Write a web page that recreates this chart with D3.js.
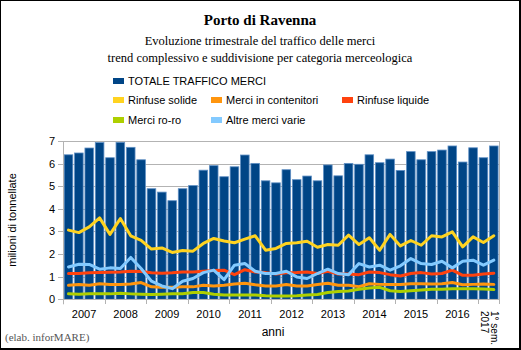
<!DOCTYPE html>
<html><head><meta charset="utf-8">
<script src="https://cdn.jsdelivr.net/npm/d3@7"></script>
<style>body{margin:0;background:#fff}svg{display:block}</style>
</head><body>
<script>
const years = ["2007","2008","2009","2010","2011","2012","2013","2014","2015","2016"];
const lastLabel = ["1° sem.","2017"];
const totale = [6.39,6.47,6.69,6.93, 6.26,6.94,6.72,6.17, 4.89,4.74,4.36,4.89, 5.03,5.71,5.91,5.42, 5.86,6.38,6.01,5.24, 5.15,5.73,5.29,5.45, 5.24,5.94,5.46,6.01, 5.97,6.39,6.04,6.20, 5.70,6.53,6.17,6.53, 6.60,6.78,6.07,6.70, 6.26,6.78];
const rinfuseSolide = [3.06,2.95,3.20,3.60, 2.87,3.57,2.81,2.61, 2.22,2.27,2.07,2.16, 2.13,2.47,2.69,2.58, 2.50,2.66,2.81,2.17, 2.25,2.47,2.50,2.57, 2.30,2.42,2.39,2.84, 2.42,2.72,2.17,2.87, 2.36,2.60,2.39,2.81, 2.76,2.98,2.32,2.76, 2.51,2.81];
const contenitori = [0.62,0.65,0.62,0.69, 0.65,0.65,0.68,0.74, 0.55,0.53,0.53,0.55, 0.55,0.62,0.59,0.62, 0.68,0.71,0.64,0.59, 0.59,0.65,0.59,0.59, 0.65,0.71,0.62,0.62, 0.56,0.69,0.66,0.65, 0.65,0.69,0.69,0.68, 0.69,0.74,0.64,0.66, 0.68,0.66];
const rinfuseLiquide = [1.14,1.14,1.17,1.18, 1.20,1.21,1.24,1.23, 1.17,1.15,1.17,1.21, 1.21,1.24,1.27,1.29, 1.09,1.31,1.21,1.18, 1.12,1.17,1.18,1.21, 1.14,1.24,1.12,1.12, 1.09,1.21,1.18,1.09, 1.03,1.14,1.18,1.12, 1.14,1.29,1.06,1.06, 1.12,1.15];
const roro = [0.24,0.22,0.24,0.24, 0.24,0.27,0.24,0.22, 0.21,0.22,0.24,0.25, 0.30,0.30,0.22,0.19, 0.19,0.19,0.19,0.16, 0.15,0.15,0.16,0.19, 0.21,0.30,0.35,0.37, 0.44,0.50,0.53,0.38, 0.35,0.38,0.41,0.44, 0.44,0.47,0.47,0.47, 0.46,0.43];
const altre = [1.43,1.55,1.54,1.33, 1.39,1.36,1.85,1.36, 0.80,0.59,0.47,0.80, 0.92,1.18,1.29,0.87, 1.51,1.58,1.24,1.14, 1.14,1.24,0.99,0.92, 1.14,1.33,1.14,1.09, 1.58,1.43,1.51,1.29, 1.48,1.80,1.58,1.54, 1.68,1.39,1.68,1.73, 1.51,1.73];
const yTicks = [0,1,2,3,4,5,6,7];

const W=521,H=350;
const svg=d3.select("body").append("svg").attr("width",W).attr("height",H);
svg.append("rect").attr("width",W).attr("height",H).attr("fill","#fff");

const x=d3.scaleBand().domain(d3.range(totale.length)).range([63.3,499]).paddingInner(0.17).paddingOuter(0.085);
const xs=d3.scaleBand().domain(d3.range(totale.length)).range([63.3,499]);
const y=d3.scaleLinear().domain([0,7]).range([299.3,141]);

// gridlines
svg.append("g").selectAll("line").data(yTicks.filter(d=>d>0)).join("line")
  .attr("x1",63.3).attr("x2",499).attr("y1",d=>Math.round(y(d))+0.5).attr("y2",d=>Math.round(y(d))+0.5)
  .attr("stroke","#b3b3b3").attr("stroke-width",1);
svg.append("line").attr("x1",499.5).attr("x2",499.5).attr("y1",y(7)).attr("y2",y(0)).attr("stroke","#b3b3b3");

// bars
svg.append("g").selectAll("rect").data(totale).join("rect")
  .attr("x",(d,i)=>x(i)).attr("width",x.bandwidth())
  .attr("y",d=>y(d)).attr("height",d=>y(0)-y(d))
  .attr("fill","#004586").attr("stroke","#5f8fc4").attr("stroke-width",0.8);

// lines
const series=[
 {name:"Rinfuse solide",vals:rinfuseSolide,color:"#ffd320"},
 {name:"Merci in contenitori",vals:contenitori,color:"#ff950e"},
 {name:"Rinfuse liquide",vals:rinfuseLiquide,color:"#ff420e"},
 {name:"Merci ro-ro",vals:roro,color:"#aecf00"},
 {name:"Altre merci varie",vals:altre,color:"#83caff"}
];
const line=d3.line().x((d,i)=>xs(i)+xs.bandwidth()/2).y(d=>y(d));
series.forEach(s=>{
  svg.append("path").attr("d",line(s.vals)).attr("fill","none").attr("stroke",s.color)
    .attr("stroke-width",3).attr("stroke-linejoin","round").attr("stroke-linecap","round");
});

// axes
const ax=svg.append("g").attr("font-family","'Liberation Sans',Arial,sans-serif").attr("font-size","11px");
ax.append("line").attr("x1",63.5).attr("x2",63.5).attr("y1",y(7)).attr("y2",y(0)+5).attr("stroke","#b3b3b3");
ax.append("line").attr("x1",58).attr("x2",499.5).attr("y1",299.5).attr("y2",299.5).attr("stroke","#b3b3b3");
ax.selectAll(".yt").data(yTicks).join("line").attr("x1",58).attr("x2",63.3)
  .attr("y1",d=>Math.round(y(d))+0.5).attr("y2",d=>Math.round(y(d))+0.5).attr("stroke","#b3b3b3");
ax.selectAll(".yl").data(yTicks).join("text").attr("x",55).attr("y",d=>y(d)).attr("dy","0.36em")
  .attr("text-anchor","end").attr("fill","#000").text(d=>d);
const tickIdx=d3.range(0,41,4).concat([40,42]);
ax.selectAll(".xt").data([...new Set(tickIdx)]).join("line")
  .attr("x1",d=>Math.round(d===42?499:xs(d))+0.5).attr("x2",d=>Math.round(d===42?499:xs(d))+0.5)
  .attr("y1",299).attr("y2",304).attr("stroke","#b3b3b3");
ax.selectAll(".xl").data(years).join("text")
  .attr("x",(d,i)=>(xs(i*4)+xs(i*4+3)+xs.bandwidth())/2).attr("y",318)
  .attr("text-anchor","middle").text(d=>d);
const lx=(xs(40)+xs(41)+xs.bandwidth())/2;
const lg=ax.append("g").attr("transform",`translate(${lx+1},311) rotate(90)`).attr("font-size","10px");
lg.append("text").attr("x",0).attr("y",0).attr("dy","-0.1em").text(lastLabel[0]);
lg.append("text").attr("x",0).attr("y",0).attr("dy","0.9em").text(lastLabel[1]);
ax.append("text").attr("x",273).attr("y",336).attr("text-anchor","middle").attr("font-size","12px").text("anni");
ax.append("text").attr("transform","translate(16,220) rotate(-90)").attr("text-anchor","middle").text("milioni di tonnellate");

// titles
const tg=svg.append("g").attr("font-family","'Liberation Serif','Times New Roman',serif").attr("text-anchor","middle");
tg.append("text").attr("x",260).attr("y",25).attr("font-size","15px").attr("font-weight","bold").text("Porto di Ravenna");
tg.append("text").attr("x",260).attr("y",45).attr("font-size","12.5px").text("Evoluzione trimestrale del traffico delle merci");
tg.append("text").attr("x",260).attr("y",62).attr("font-size","12.5px").text("trend complessivo e suddivisione per categoria merceologica");
svg.append("text").attr("x",5).attr("y",341).attr("font-family","'Liberation Serif','Times New Roman',serif")
  .attr("font-size","11px").attr("fill","#555").text("(elab. inforMARE)");

// legend
const legend=[
 {name:"TOTALE TRAFFICO MERCI",color:"#004586",x:113,y:81},
 {name:series[0].name,color:series[0].color,x:113,y:100},
 {name:series[1].name,color:series[1].color,x:211,y:100},
 {name:series[2].name,color:series[2].color,x:342,y:100},
 {name:series[3].name,color:series[3].color,x:113,y:120},
 {name:series[4].name,color:series[4].color,x:211,y:120}
];
const lgG=svg.append("g").attr("font-family","'Liberation Sans',Arial,sans-serif").attr("font-size","11px");
legend.forEach(l=>{
  lgG.append("rect").attr("x",l.x).attr("y",l.y-3).attr("width",11).attr("height",6).attr("fill",l.color);
  lgG.append("text").attr("x",l.x+15).attr("y",l.y+4).text(l.name);
});

// border
svg.append("rect").attr("x",0.5).attr("y",0.5).attr("width",519).attr("height",348).attr("fill","none").attr("stroke","#000");
svg.append("line").attr("x1",520.5).attr("x2",520.5).attr("y1",0).attr("y2",350).attr("stroke","#000");
svg.append("line").attr("x1",0).attr("x2",521).attr("y1",349.5).attr("y2",349.5).attr("stroke","#000");
</script>
</body></html>
